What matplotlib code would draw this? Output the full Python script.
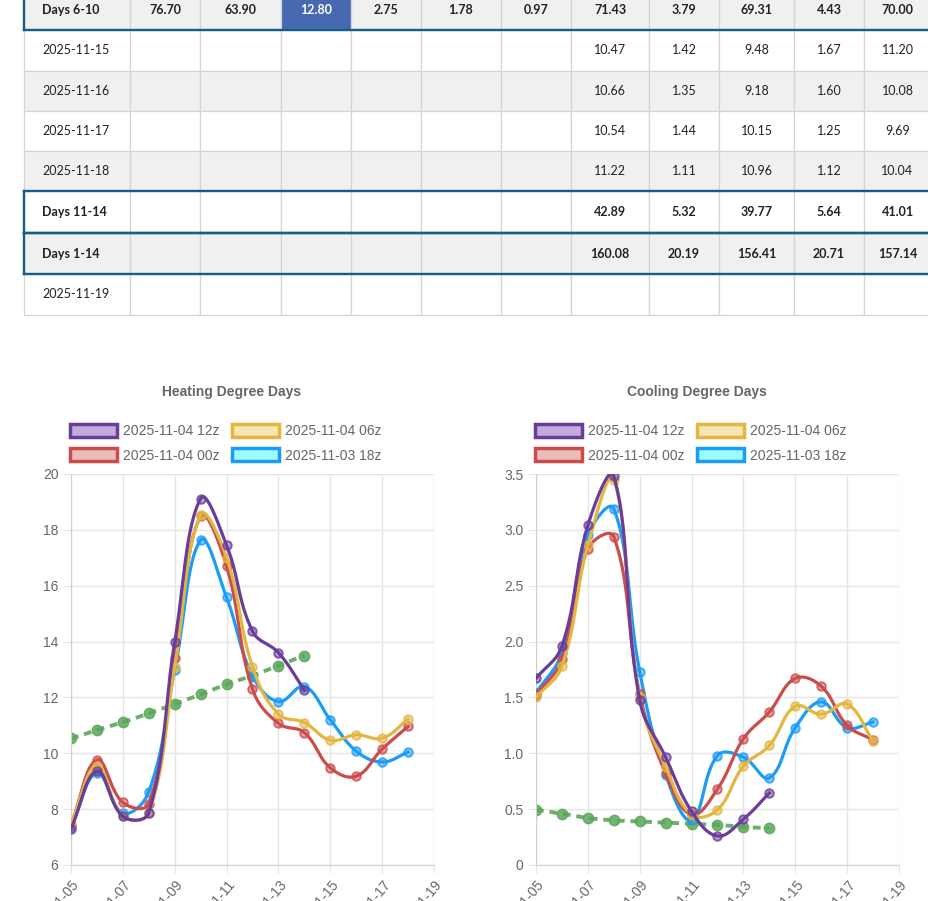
import numpy as np
import matplotlib
matplotlib.use("Agg")
import matplotlib.pyplot as plt
from matplotlib.patches import Rectangle, Patch

# ---- table data ----
row_labels = ['Days 6-10', '2025-11-15', '2025-11-16', '2025-11-17', '2025-11-18',
              'Days 11-14', 'Days 1-14', '2025-11-19']
row_bold = [True, False, False, False, False, True, True, False]
row_values = [
    ['76.70', '63.90', '12.80', '2.75', '1.78', '0.97', '71.43', '3.79', '69.31', '4.43', '70.00'],
    ['', '', '', '', '', '', '10.47', '1.42', '9.48', '1.67', '11.20'],
    ['', '', '', '', '', '', '10.66', '1.35', '9.18', '1.60', '10.08'],
    ['', '', '', '', '', '', '10.54', '1.44', '10.15', '1.25', '9.69'],
    ['', '', '', '', '', '', '11.22', '1.11', '10.96', '1.12', '10.04'],
    ['', '', '', '', '', '', '42.89', '5.32', '39.77', '5.64', '41.01'],
    ['', '', '', '', '', '', '160.08', '20.19', '156.41', '20.71', '157.14'],
    ['', '', '', '', '', '', '', '', '', '', ''],
]

# ---- chart data ----
days = ['11-05', '11-06', '11-07', '11-08', '11-09', '11-10', '11-11',
        '11-12', '11-13', '11-14', '11-15', '11-16', '11-17', '11-18']
tick_labels = ['11-05', '11-07', '11-09', '11-11', '11-13', '11-15', '11-17', '11-19']
run_names = ['2025-11-04 12z', '2025-11-04 06z', '2025-11-04 00z', '2025-11-03 18z']

hdd_12z = [7.30, 9.36, 7.74, 7.87, 13.98, 19.12, 17.45, 14.37, 13.60, 12.27]
hdd_06z = [7.48, 9.55, 7.74, 7.86, 13.10, 18.54, 17.00, 13.10, 11.40, 11.10, 10.47, 10.66, 10.54, 11.22]
hdd_00z = [7.44, 9.76, 8.24, 8.20, 13.40, 18.48, 16.70, 12.30, 11.07, 10.74, 9.48, 9.18, 10.15, 10.96]
hdd_18z = [7.35, 9.30, 7.86, 8.62, 13.00, 17.63, 15.58, 12.78, 11.85, 12.39, 11.20, 10.08, 9.69, 10.04]
hdd_norm = [10.53, 10.83, 11.11, 11.43, 11.76, 12.11, 12.47, 12.78, 13.14, 13.50]

cdd_12z = [1.67, 1.96, 3.04, 3.48, 1.475, 0.965, 0.48, 0.26, 0.41, 0.645]
cdd_06z = [1.50, 1.78, 2.86, 3.45, 1.50, 0.88, 0.45, 0.495, 0.885, 1.07, 1.42, 1.35, 1.44, 1.11]
cdd_00z = [1.52, 1.84, 2.83, 2.94, 1.53, 0.82, 0.45, 0.68, 1.13, 1.37, 1.67, 1.60, 1.25, 1.12]
cdd_18z = [1.54, 1.90, 2.95, 3.19, 1.73, 0.81, 0.40, 0.98, 0.965, 0.78, 1.23, 1.46, 1.23, 1.28]
cdd_norm = [0.495, 0.46, 0.42, 0.40, 0.39, 0.38, 0.37, 0.36, 0.34, 0.33]

run_colors = ['#6a3d9a', '#e3b641', '#cc4c4c', '#1a9cf7']
run_fills = ['#c2acd9', '#f4e5b3', '#ebbcbc', '#9efcff']
norm_color = '#5aa75a'

W, H = 929, 901
fig = plt.figure(figsize=(W / 100, H / 100), dpi=100)
plt.rcParams['font.family'] = ['Liberation Sans', 'DejaVu Sans']

# ---- table, drawn on a full-figure axes in pixel units ----
axt = fig.add_axes([0, 0, 1, 1])
axt.set_xlim(0, W)
axt.set_ylim(H, 0)
axt.axis('off')

col_edges = [24, 130, 200, 281, 351, 421, 501, 571, 649, 719, 794, 864, 931]
row_edges = [-11, 30, 71, 111, 151, 191, 233, 274, 315]
thick = '#165e88'
tfont = ['Lato', 'DejaVu Sans']

for r, label in enumerate(row_labels):
    y0, y1 = row_edges[r], row_edges[r + 1]
    bg = '#f0f0f0' if r % 2 == 0 else 'white'
    for c in range(len(col_edges) - 1):
        x0, x1 = col_edges[c], col_edges[c + 1]
        face = bg
        txtc = '#222222'
        if r == 0 and c == 3:
            face = '#4769b0'
            txtc = 'white'
        axt.add_patch(Rectangle((x0, y0), x1 - x0, y1 - y0, facecolor=face,
                                edgecolor='#d4d4d4', linewidth=0.9))
        if c == 0:
            axt.text(42, (y0 + y1) / 2, label, ha='left', va='center', fontsize=9,
                     family=tfont, fontweight='bold' if row_bold[r] else 'normal',
                     color='#222222')
        else:
            v = row_values[r][c - 1]
            if v:
                axt.text((x0 + x1) / 2, (y0 + y1) / 2, v, ha='center', va='center',
                         fontsize=9, family=tfont,
                         fontweight='bold' if row_bold[r] else 'normal', color=txtc)
    if row_bold[r]:
        axt.plot([col_edges[0], col_edges[-1]], [y0, y0], color=thick, lw=1.7)
        axt.plot([col_edges[0], col_edges[-1]], [y1, y1], color=thick, lw=1.7)
        axt.plot([col_edges[0], col_edges[0]], [y0, y1], color=thick, lw=1.7)


def chart_spline(xs, ys, sx, sy, tension=0.4, n=30):
    # chart.js style bezier smoothing, worked out in pixel space
    px = np.asarray(xs, float) * sx
    py = np.asarray(ys, float) * sy
    m = len(px)
    cpp, cpn = [], []
    for i in range(m):
        a = max(i - 1, 0)
        b = min(i + 1, m - 1)
        d01 = np.hypot(px[i] - px[a], py[i] - py[a])
        d12 = np.hypot(px[b] - px[i], py[b] - py[i])
        tot = d01 + d12
        s01 = d01 / tot if tot else 0
        s12 = d12 / tot if tot else 0
        dx, dy = px[b] - px[a], py[b] - py[a]
        cpp.append((px[i] - tension * s01 * dx, py[i] - tension * s01 * dy))
        cpn.append((px[i] + tension * s12 * dx, py[i] + tension * s12 * dy))
    outx, outy = [px[0]], [py[0]]
    t = np.linspace(0, 1, n)[1:]
    for i in range(m - 1):
        p0 = (px[i], py[i])
        p1 = cpn[i]
        p2 = cpp[i + 1]
        p3 = (px[i + 1], py[i + 1])
        bx = (1 - t) ** 3 * p0[0] + 3 * (1 - t) ** 2 * t * p1[0] + 3 * (1 - t) * t ** 2 * p2[0] + t ** 3 * p3[0]
        by = (1 - t) ** 3 * p0[1] + 3 * (1 - t) ** 2 * t * p1[1] + 3 * (1 - t) * t ** 2 * p2[1] + t ** 3 * p3[1]
        outx.extend(bx)
        outy.extend(by)
    return np.array(outx) / sx, np.array(outy) / sy


def draw_chart(ax, runs, norm, ylo, yspan, ystep, title, title_x, leg_x, fmt):
    sx = 363 / 14.0
    sy = 391 / yspan
    # normal line
    xs = np.arange(len(norm))
    cx, cy = chart_spline(xs, norm, sx, sy)
    ax.plot(cx, cy, color=norm_color, lw=2.8, dashes=(2.0, 1.5), alpha=0.9, zorder=2)
    ax.plot(xs, norm, 'o', color=norm_color, ms=7.5, mec=norm_color, alpha=0.85, zorder=2)
    for k in range(len(runs) - 1, -1, -1):
        vals = runs[k]
        xs = np.arange(len(vals))
        cx, cy = chart_spline(xs, vals, sx, sy)
        col = run_colors[k]
        ax.plot(cx, cy, color=col, lw=2.3, zorder=3 + (4 - k))
        ax.plot(xs, vals, 'o', ms=6, mfc=matplotlib.colors.to_rgba(col, 0.45),
                mec=matplotlib.colors.to_rgba(col, 0.8), mew=1.5, zorder=3 + (4 - k))
    ax.set_xlim(0, 14)
    ax.set_ylim(ylo, ylo + yspan)
    ax.set_xticks(np.arange(0, 15, 2))
    ax.set_xticklabels(tick_labels, rotation=50, ha='right', va='top',
                       rotation_mode='anchor', fontsize=10, color='#666666')
    yt = np.arange(ylo, ylo + yspan + 1e-9, ystep)
    ax.set_yticks(yt)
    ax.set_yticklabels([fmt(v) for v in yt], fontsize=10, color='#666666')
    ax.grid(True, color='#e5e5e5', lw=1)
    ax.set_axisbelow(True)
    for s in ['top', 'right']:
        ax.spines[s].set_visible(False)
    for s in ['left', 'bottom']:
        ax.spines[s].set_color('#cfcfcf')
    ax.tick_params(length=6, color='#e5e5e5', pad=3)
    axt.text(title_x, 392, title, ha='center', va='center', fontsize=10,
             fontweight='bold', color='#666666')
    order = [0, 2, 1, 3]
    handles = [Patch(facecolor=run_fills[i], edgecolor=run_colors[i], linewidth=2.5)
               for i in order]
    ax.legend(handles, [run_names[i] for i in order], ncol=2, loc='upper left',
              bbox_to_anchor=(leg_x, 424), bbox_transform=axt.transData,
              frameon=False, fontsize=10, handlelength=3.4, handleheight=1.1,
              handletextpad=0.45, columnspacing=0.85, labelspacing=0.7,
              borderpad=0, borderaxespad=0, labelcolor='#666666')


ax1 = fig.add_axes([71 / W, 36 / H, 363 / W, 391 / H])
ax2 = fig.add_axes([536 / W, 36 / H, 363 / W, 391 / H])

draw_chart(ax1, [hdd_12z, hdd_06z, hdd_00z, hdd_18z], hdd_norm, 6, 14, 2,
           'Heating Degree Days', 232, 70, lambda v: '%d' % v)
draw_chart(ax2, [cdd_12z, cdd_06z, cdd_00z, cdd_18z], cdd_norm, 0, 3.5, 0.5,
           'Cooling Degree Days', 697, 535, lambda v: '0' if v == 0 else '%.1f' % v)

fig.savefig('out.png', dpi=100)
